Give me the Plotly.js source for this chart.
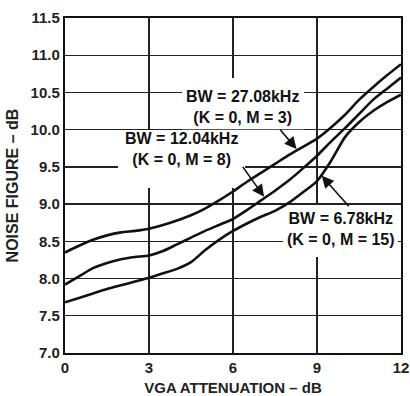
<!DOCTYPE html>
<html>
<head>
<meta charset="utf-8">
<script src="https://cdn.plot.ly/plotly-3.0.1.min.js"></script>
<style>html,body{margin:0;padding:0;background:#fff;}#chart{width:410px;height:396px;}</style>
</head>
<body>
<div id="chart"></div>
<script>
// VGA attenuation (dB)
const attenuation = [0, 0.5, 1, 1.5, 2, 2.5, 3, 3.5, 4, 4.5, 5, 5.5, 6, 6.5, 7, 7.5, 8, 8.5, 9, 9.5, 10, 10.5, 11, 11.5, 12];
// Noise figure (dB), BW = 27.08kHz (K = 0, M = 3)
const nf_27k = [8.35, 8.44, 8.52, 8.58, 8.62, 8.64, 8.67, 8.72, 8.78, 8.85, 8.94, 9.05, 9.17, 9.30, 9.42, 9.54, 9.66, 9.77, 9.88, 10.03, 10.20, 10.40, 10.57, 10.73, 10.88];
// Noise figure (dB), BW = 12.04kHz (K = 0, M = 8)
const nf_12k = [7.92, 8.03, 8.14, 8.21, 8.26, 8.29, 8.31, 8.37, 8.46, 8.55, 8.64, 8.72, 8.80, 8.92, 9.05, 9.18, 9.32, 9.48, 9.65, 9.84, 10.02, 10.21, 10.40, 10.55, 10.70];
// Noise figure (dB), BW = 6.78kHz (K = 0, M = 15)
const nf_6k = [7.68, 7.74, 7.80, 7.86, 7.91, 7.96, 8.01, 8.07, 8.13, 8.22, 8.38, 8.52, 8.64, 8.74, 8.83, 8.91, 9.02, 9.16, 9.31, 9.58, 9.90, 10.10, 10.25, 10.37, 10.47];
const seriesLabels = ['BW = 27.08kHz<br>(K = 0, M = 3)', 'BW = 12.04kHz<br>(K = 0, M = 8)', 'BW = 6.78kHz<br>(K = 0, M = 15)'];
const xTicks = [0, 3, 6, 9, 12];
const yTicks = [7.0, 7.5, 8.0, 8.5, 9.0, 9.5, 10.0, 10.5, 11.0, 11.5];

const FONT = 'Liberation Sans, Arial, Helvetica, sans-serif';
const lineStyle = {color: '#111', width: 2.6, shape: 'spline', smoothing: 0.6};
const traces = [nf_27k, nf_12k, nf_6k].map((ys, i) => ({
  x: attenuation, y: ys, type: 'scatter', mode: 'lines', name: seriesLabels[i],
  line: lineStyle, hoverinfo: 'skip'
}));

const textAnn = (text, x, y) => ({
  x, y, xref: 'x', yref: 'y', text, showarrow: false, align: 'center',
  font: {family: FONT, size: 16, color: '#111', weight: 'bold'}
});
const arrowAnn = (x, y, ax, ay) => ({
  x, y, ax, ay, xref: 'x', yref: 'y', axref: 'x', ayref: 'y', text: '',
  showarrow: true, arrowhead: 2, arrowsize: 1.5, arrowwidth: 1.6, arrowcolor: '#111', standoff: 0
});
const whiteBox = (x0, x1, y0, y1) => ({
  type: 'rect', xref: 'x', yref: 'y', x0, x1, y0, y1, layer: 'between',
  fillcolor: '#fff', line: {width: 0}
});

const layout = {
  width: 410, height: 396,
  margin: {l: 65, r: 9, t: 18, b: 43, pad: 0},
  paper_bgcolor: '#fff', plot_bgcolor: '#fff',
  showlegend: false,
  xaxis: {
    range: [0, 12], tickvals: xTicks, ticktext: xTicks.map(String),
    showgrid: true, gridcolor: '#222', gridwidth: 1.3, zeroline: false,
    showline: true, linecolor: '#111', linewidth: 2.2, mirror: true, ticks: '',
    tickfont: {family: FONT, size: 15, color: '#222', weight: 'bold'},
    title: {text: 'VGA ATTENUATION – dB', standoff: 9, font: {family: FONT, size: 15, color: '#222', weight: 'bold'}},
    automargin: false, fixedrange: true
  },
  yaxis: {
    range: [7.0, 11.5], tickvals: yTicks, ticktext: yTicks.map(v => v.toFixed(1)),
    showgrid: true, gridcolor: '#222', gridwidth: 1.3, zeroline: false,
    showline: true, linecolor: '#111', linewidth: 2.2, mirror: true, ticks: '',
    tickfont: {family: FONT, size: 15, color: '#222', weight: 'bold'},
    title: {text: 'NOISE FIGURE – dB', standoff: 8, font: {family: FONT, size: 16, color: '#222', weight: 'bold'}},
    automargin: false, fixedrange: true
  },
  shapes: [
    whiteBox(4.18, 8.54, 10.005, 10.694),
    whiteBox(1.89, 6.43, 9.215, 9.995),
    whiteBox(7.79, 11.89, 8.288, 8.987)
  ],
  annotations: [
    textAnn(seriesLabels[0], 6.33, 10.31),
    textAnn(seriesLabels[1], 4.15, 9.74),
    textAnn(seriesLabels[2], 9.84, 8.67),
    arrowAnn(8.27, 9.74, 7.64, 10.02),
    arrowAnn(7.11, 9.10, 6.31, 9.52),
    arrowAnn(9.17, 9.38, 10.18, 8.95)
  ]
};

Plotly.newPlot('chart', traces, layout, {staticPlot: true, displayModeBar: false});
</script>
</body>
</html>
